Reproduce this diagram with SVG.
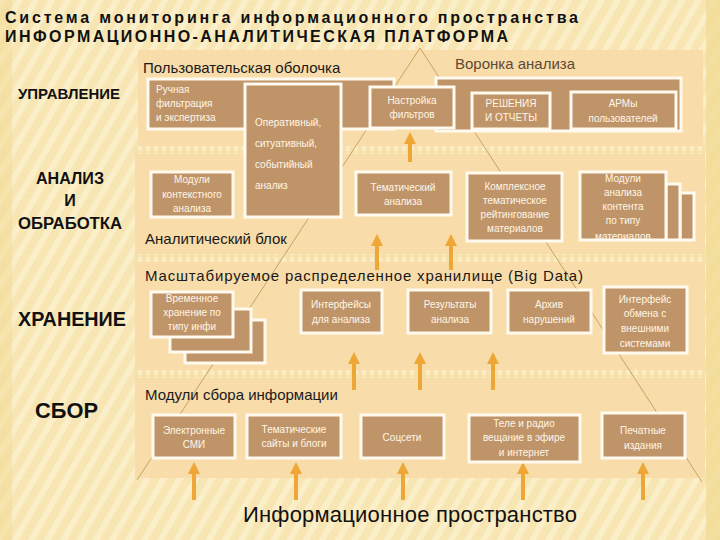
<svg xmlns="http://www.w3.org/2000/svg" width="720" height="540" viewBox="0 0 720 540">
<defs>
<pattern id="stripes" width="14" height="14" patternUnits="userSpaceOnUse" patternTransform="rotate(30)">
<rect width="14" height="14" fill="#f7e6b4"/>
<rect width="6" height="14" fill="#fbefc9"/>
</pattern>
<pattern id="dots" width="8" height="8" patternUnits="userSpaceOnUse">
<rect width="8" height="8" fill="#f6e0ac"/>
<rect x="2" y="1" width="4" height="6" fill="#fbecc4"/>
</pattern>
<marker id="ah" viewBox="0 0 10 10" refX="5" refY="5" markerWidth="3" markerHeight="3" orient="auto">
<path d="M0,0 L10,5 L0,10 z" fill="#eea637"/>
</marker>
<clipPath id="clipMod"><rect x="580" y="172" width="86" height="67"/></clipPath>
<style>
.band{fill:#f8dcaa}
.box{fill:#c09469;stroke:#fffaf0;stroke-width:3}
.bt{font-family:"Liberation Sans",Arial,sans-serif;font-size:10px;fill:#fff6e6;text-anchor:middle}
.btl{font-family:"Liberation Sans",Arial,sans-serif;font-size:10px;fill:#fff6e6}
.hd{font-family:"Liberation Sans",Arial,sans-serif;font-size:15px;fill:#1a1a1a}
.big{font-family:"Liberation Sans",Arial,sans-serif;font-size:22px;fill:#111}
.lbl{font-family:"Liberation Sans",Arial,sans-serif;font-weight:bold;fill:#111}
.arr{stroke:#eea637;stroke-width:4;fill:none;marker-end:url(#ah)}
.fun{stroke:#c9a25e;stroke-width:1;fill:none}
.ttl{font-family:"Liberation Sans",Arial,sans-serif;font-weight:bold;font-size:16px;fill:#111}
</style>
</defs>
<rect width="720" height="540" fill="url(#stripes)"/>
<rect x="0" y="0" width="12" height="540" fill="#f3dc9a" opacity="0.6"/>
<rect x="706" y="0" width="14" height="540" fill="#f0d88f" opacity="0.7"/>
<g id="bands">
<rect x="135" y="146" width="570" height="8" fill="url(#dots)"/>
<rect x="135" y="254" width="570" height="8" fill="url(#dots)"/>
<rect x="135" y="370" width="570" height="8" fill="url(#dots)"/>
<rect class="band" x="138" y="50" width="565" height="96"/>
<rect class="band" x="135" y="154" width="570" height="100"/>
<rect class="band" x="135" y="262" width="570" height="108"/>
<rect class="band" x="135" y="378" width="570" height="100"/>
</g>
<g id="title">
<text class="ttl" x="5" y="23" textLength="573" lengthAdjust="spacing">Система мониторинга информационного пространства</text>
<text class="ttl" x="5" y="42" textLength="503" lengthAdjust="spacing">ИНФОРМАЦИОННО-АНАЛИТИЧЕСКАЯ ПЛАТФОРМА</text>
</g>
<g id="levels">
<text class="lbl" x="18" y="99" font-size="15" textLength="102" lengthAdjust="spacingAndGlyphs">УПРАВЛЕНИЕ</text>
<text class="lbl" x="70" y="184" font-size="16" text-anchor="middle" textLength="68" lengthAdjust="spacingAndGlyphs">АНАЛИЗ</text>
<text class="lbl" x="70" y="206" font-size="16" text-anchor="middle">И</text>
<text class="lbl" x="70" y="229" font-size="16" text-anchor="middle" textLength="104" lengthAdjust="spacingAndGlyphs">ОБРАБОТКА</text>
<text class="lbl" x="18" y="326" font-size="21" textLength="108" lengthAdjust="spacingAndGlyphs">ХРАНЕНИЕ</text>
<text class="lbl" x="35" y="418" font-size="22" textLength="63" lengthAdjust="spacingAndGlyphs">СБОР</text>
</g>
<g id="connectors">
<path class="fun" d="M420,48 L137,480"/>
<path class="fun" d="M420,48 L702,482"/>
<path class="arr" d="M410,162 L410,138"/>
<path class="arr" d="M377,270 L377,240"/>
<path class="arr" d="M451,270 L451,240"/>
<path class="arr" d="M354,390 L354,358"/>
<path class="arr" d="M420,390 L420,358"/>
<path class="arr" d="M493,390 L493,358"/>
<path class="arr" d="M194,500 L194,468"/>
<path class="arr" d="M296,500 L296,468"/>
<path class="arr" d="M403,500 L403,468"/>
<path class="arr" d="M523,500 L523,468"/>
<path class="arr" d="M643,500 L643,468"/>
</g>
<g id="headers">
<text class="hd" x="143" y="73">Пользовательская оболочка</text>
<text class="hd" x="455" y="69" style="fill:#5e4a35">Воронка анализа</text>
<text class="hd" x="145" y="244">Аналитический блок</text>
<text class="hd" x="145" y="281" textLength="438" lengthAdjust="spacing">Масштабируемое распределенное хранилище (Big Data)</text>
<text class="hd" x="145" y="400">Модули сбора информации</text>
<text class="big" x="243" y="522" textLength="334" lengthAdjust="spacing">Информационное пространство</text>
</g>
<g id="shell">
<rect class="box" x="148" y="79" width="246" height="50"/>
<text class="btl" x="156" y="93">Ручная</text>
<text class="btl" x="156" y="107">фильтрация</text>
<text class="btl" x="156" y="121">и экспертиза</text>
</g>
<g id="funnel-bar">
<rect class="box" x="436" y="78" width="245" height="53"/>
</g>
<g id="operative">
<rect class="box" x="245" y="84" width="96" height="133"/>
<text class="btl" x="255" y="126">Оперативный,</text>
<text class="btl" x="255" y="147">ситуативный,</text>
<text class="btl" x="255" y="168">событийный</text>
<text class="btl" x="255" y="189">анализ</text>
</g>
<g id="filters">
<rect class="box" x="370" y="87" width="84" height="41"/>
<text class="bt" x="412" y="104">Настройка</text>
<text class="bt" x="412" y="118">фильтров</text>
</g>
<g id="decisions">
<rect class="box" x="472" y="93" width="78" height="36"/>
<text class="bt" x="511" y="107">РЕШЕНИЯ</text>
<text class="bt" x="511" y="121">И ОТЧЕТЫ</text>
</g>
<g id="arm">
<rect class="box" x="571" y="92" width="105" height="37"/>
<text class="bt" x="623" y="107">АРМы</text>
<text class="bt" x="623" y="122">пользователей</text>
</g>
<g id="context">
<rect class="box" x="151" y="172" width="82" height="45"/>
<text class="bt" x="192" y="183">Модули</text>
<text class="bt" x="192" y="198">контекстного</text>
<text class="bt" x="192" y="212">анализа</text>
</g>
<g id="thematic">
<rect class="box" x="356" y="172" width="95" height="43"/>
<text class="bt" x="403" y="191">Тематический</text>
<text class="bt" x="403" y="205">анализа</text>
</g>
<g id="rating">
<rect class="box" x="467" y="173" width="95" height="68"/>
<text class="bt" x="515" y="190">Комплексное</text>
<text class="bt" x="515" y="204">тематическое</text>
<text class="bt" x="515" y="218">рейтингование</text>
<text class="bt" x="515" y="232">материалов</text>
</g>
<g id="content-modules">
<rect class="box" x="680" y="193" width="14" height="47"/>
<rect class="box" x="666" y="184" width="14" height="56"/>
<rect class="box" x="580" y="172" width="86" height="68"/>
<g clip-path="url(#clipMod)">
<text class="bt" x="623" y="182">Модули</text>
<text class="bt" x="623" y="196">анализа</text>
<text class="bt" x="623" y="210">контента</text>
<text class="bt" x="623" y="224">по типу</text>
<text class="bt" x="623" y="240">материалов</text>
</g>
</g>
<g id="temp-storage">
<rect class="box" x="185" y="320" width="80" height="43"/>
<rect class="box" x="170" y="309" width="81" height="43"/>
<rect class="box" x="151" y="292" width="82" height="45"/>
<text class="bt" x="192" y="302">Временное</text>
<text class="bt" x="192" y="316">хранение по</text>
<text class="bt" x="192" y="330">типу инфи</text>
</g>
<g id="iface-analysis">
<rect class="box" x="301" y="290" width="81" height="43"/>
<text class="bt" x="341" y="308">Интерфейсы</text>
<text class="bt" x="341" y="323">для анализа</text>
</g>
<g id="results">
<rect class="box" x="408" y="290" width="83" height="43"/>
<text class="bt" x="450" y="308">Результаты</text>
<text class="bt" x="450" y="323">анализа</text>
</g>
<g id="archive">
<rect class="box" x="508" y="290" width="83" height="43"/>
<text class="bt" x="549" y="308">Архив</text>
<text class="bt" x="549" y="323">нарушений</text>
</g>
<g id="exchange">
<rect class="box" x="604" y="287" width="83" height="66"/>
<text class="bt" x="645" y="303">Интерфейс</text>
<text class="bt" x="645" y="317">обмена с</text>
<text class="bt" x="645" y="332">внешними</text>
<text class="bt" x="645" y="347">системами</text>
</g>
<g id="emedia">
<rect class="box" x="153" y="415" width="82" height="43"/>
<text class="bt" x="194" y="434">Электронные</text>
<text class="bt" x="194" y="448">СМИ</text>
</g>
<g id="sites">
<rect class="box" x="247" y="415" width="94" height="43"/>
<text class="bt" x="294" y="433">Тематические</text>
<text class="bt" x="294" y="447">сайты  и блоги</text>
</g>
<g id="social">
<rect class="box" x="361" y="415" width="83" height="43"/>
<text class="bt" x="402" y="441">Соцсети</text>
</g>
<g id="tv">
<rect class="box" x="469" y="415" width="111" height="47"/>
<text class="bt" x="524" y="427">Теле и радио</text>
<text class="bt" x="524" y="441">вещание  в эфире</text>
<text class="bt" x="524" y="456">и интернет</text>
</g>
<g id="print">
<rect class="box" x="602" y="413" width="83" height="45"/>
<text class="bt" x="643" y="434">Печатные</text>
<text class="bt" x="643" y="449">издания</text>
</g>
</svg>
